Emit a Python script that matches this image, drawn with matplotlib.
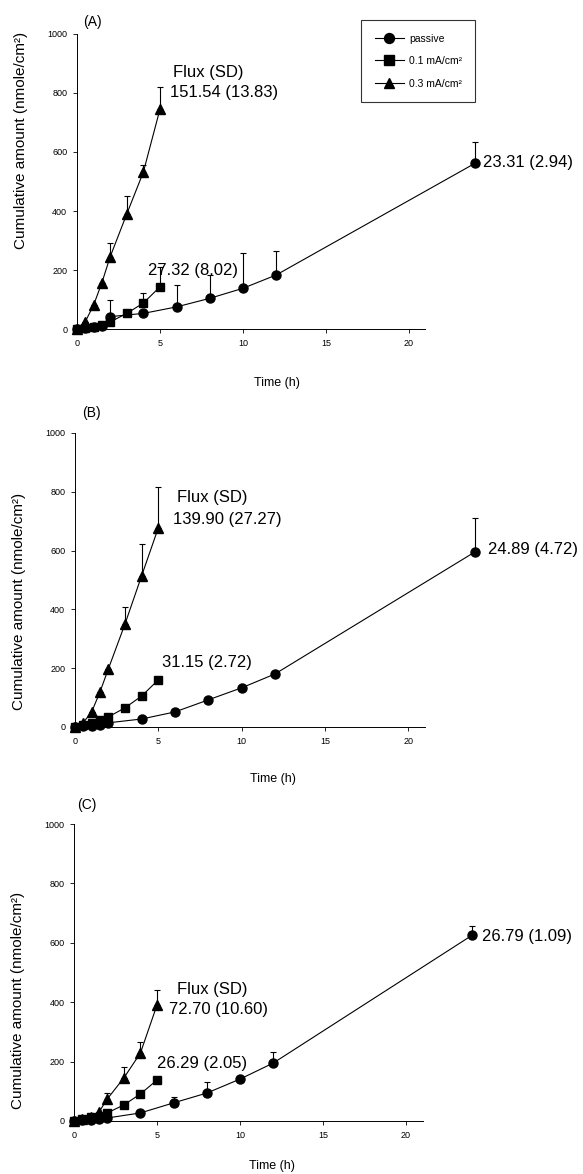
import matplotlib
matplotlib.use("Agg")
import matplotlib.pyplot as plt
import numpy as np

plt.rcParams['font.family'] = ['Liberation Sans', 'DejaVu Sans']

# sampling times (h)
time_passive = [0, 0.5, 1, 1.5, 2, 4, 6, 8, 10, 12, 24]
time_ionto = [0, 0.5, 1, 1.5, 2, 3, 4, 5]

# panel A
a_passive = [0, 3, 6, 10, 42, 53, 75, 104, 138, 183, 562]
a_passive_sd = [0, 0, 0, 0, 56, 0, 74, 79, 120, 80, 72]
a_low = [0, 4, 8, 12, 24, 53, 88, 143]
a_low_sd = [0, 0, 0, 0, 0, 0, 34, 67]
a_high = [0, 25, 81, 157, 245, 390, 532, 745]
a_high_sd = [0, 0, 0, 0, 45, 60, 25, 75]
a_flux = ["23.31 (2.94)", "27.32 (8.02)", "151.54 (13.83)"]

# panel B
b_passive = [0, 2, 4, 6, 14, 27, 51, 92, 133, 180, 595]
b_passive_sd = [0, 0, 0, 0, 0, 0, 0, 0, 0, 0, 116]
b_low = [0, 8, 15, 22, 34, 65, 105, 160]
b_low_sd = [0, 0, 0, 0, 0, 0, 0, 0]
b_high = [0, 15, 51, 119, 197, 350, 514, 677]
b_high_sd = [0, 0, 0, 0, 0, 58, 110, 140]
b_flux = ["24.89 (4.72)", "31.15 (2.72)", "139.90 (27.27)"]

# panel C
c_passive = [0, 2, 4, 6, 10, 27, 61, 94, 141, 195, 626]
c_passive_sd = [0, 0, 0, 0, 0, 0, 20, 37, 0, 37, 30]
c_low = [0, 8, 12, 15, 27, 54, 91, 138]
c_low_sd = [0, 0, 0, 0, 0, 0, 0, 0]
c_high = [0, 5, 12, 30, 74, 145, 229, 391]
c_high_sd = [0, 0, 0, 0, 20, 37, 37, 50]
c_flux = ["26.79 (1.09)", "26.29 (2.05)", "72.70 (10.60)"]

series_labels = ["passive", "0.1 mA/cm\u00b2", "0.3 mA/cm\u00b2"]
y_ticks = [0, 200, 400, 600, 800, 1000]
x_ticks = [0, 5, 10, 15, 20]

fig = plt.figure(figsize=(5.83, 11.74), dpi=100)


def draw_panel(rect, letter, passive, passive_sd, low, low_sd, high, high_sd,
               flux, text_pos, ylab_y, xlab_xy):
    ax = fig.add_axes(rect)
    ax.set_xlim(-0.6, 26)
    ax.set_ylim(-30, 1030)
    kw = dict(color='black', lw=0.8, capsize=2, elinewidth=0.8, capthick=0.8)
    h1 = ax.errorbar(time_passive, passive, yerr=[np.zeros(len(passive)), passive_sd],
                     marker='o', ms=6.5, **kw)
    h2 = ax.errorbar(time_ionto, low, yerr=[np.zeros(len(low)), low_sd],
                     marker='s', ms=6, **kw)
    h3 = ax.errorbar(time_ionto, high, yerr=[np.zeros(len(high)), high_sd],
                     marker='^', ms=7, **kw)

    for s in ['top', 'right']:
        ax.spines[s].set_visible(False)
    ax.spines['left'].set_position(('data', 0))
    ax.spines['bottom'].set_position(('data', 0))
    ax.spines['left'].set_bounds(0, 1000)
    ax.spines['bottom'].set_bounds(0, 21)
    for s in ['left', 'bottom']:
        ax.spines[s].set_linewidth(0.7)
    ax.set_yticks(y_ticks)
    ax.set_xticks(x_ticks)
    ax.tick_params(direction='out', length=3, width=0.6, labelsize=6.5, pad=4)

    ax.set_ylabel("Cumulative amount (nmole/cm\u00b2)", fontsize=11)
    ax.yaxis.set_label_coords(-0.088, ylab_y)
    ax.set_xlabel("Time (h)", fontsize=9)
    ax.xaxis.set_label_coords(*xlab_xy)

    ax.text(text_pos['letter'][0], text_pos['letter'][1], letter, fontsize=10, va='center')
    ax.text(text_pos['head'][0], text_pos['head'][1], "Flux (SD)", fontsize=12, va='center')
    ax.text(text_pos['high'][0], text_pos['high'][1], flux[2], fontsize=12, va='center')
    ax.text(text_pos['low'][0], text_pos['low'][1], flux[1], fontsize=12, va='center')
    ax.text(text_pos['passive'][0], text_pos['passive'][1], flux[0], fontsize=12, va='center')
    return ax, [h1[0], h2[0], h3[0]]


ax_a, handles = draw_panel(
    [0.115, 0.7122, 0.757, 0.2664], "(A)",
    a_passive, a_passive_sd, a_low, a_low_sd, a_high, a_high_sd, a_flux,
    {'letter': (0.36, 1040), 'head': (5.8, 871), 'high': (5.6, 803),
     'low': (4.3, 200), 'passive': (24.5, 563)},
    0.63, (0.475, -0.125))

draw_panel(
    [0.1115, 0.3733, 0.76, 0.2654], "(B)",
    b_passive, b_passive_sd, b_low, b_low_sd, b_high, b_high_sd, b_flux,
    {'letter': (0.4, 1068), 'head': (6.1, 782), 'high': (5.9, 707),
     'low': (5.2, 218), 'passive': (24.8, 602)},
    0.43, (0.47, -0.12))

draw_panel(
    [0.11, 0.0376, 0.757, 0.268], "(C)",
    c_passive, c_passive_sd, c_low, c_low_sd, c_high, c_high_sd, c_flux,
    {'letter': (0.2, 1064), 'head': (6.2, 444), 'high': (5.7, 377),
     'low': (5.0, 195), 'passive': (24.6, 620)},
    0.41, (0.47, -0.095))

leg = ax_a.legend(handles, series_labels, loc='upper left',
                  bbox_to_anchor=(361 / 583, 1 - 20 / 1174), bbox_transform=fig.transFigure,
                  fontsize=7.5, frameon=True, fancybox=False, edgecolor='black',
                  borderpad=1.3, labelspacing=1.2, handlelength=2.8, handletextpad=0.5,
                  markerscale=1.1, borderaxespad=0)
leg.get_frame().set_linewidth(0.8)

fig.savefig("out.png", dpi=100)
